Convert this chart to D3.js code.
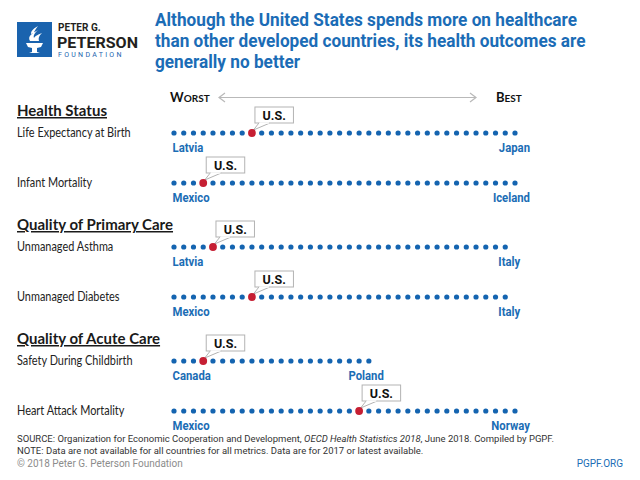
<!DOCTYPE html>
<html><head><meta charset="utf-8">
<script src="https://cdn.jsdelivr.net/npm/d3@7"></script>
<style>
html,body{margin:0;padding:0;background:#fff;}
svg{display:block;}
</style></head>
<body>
<script>
// ---- data ----
const titleLines = ["Although the United States spends more on healthcare",
  "than other developed countries, its health outcomes are",
  "generally no better"];
const sections = ["Health Status", "Quality of Primary Care", "Quality of Acute Care"];
const metrics = ["Life Expectancy at Birth", "Infant Mortality", "Unmanaged Asthma",
  "Unmanaged Diabetes", "Safety During Childbirth", "Heart Attack Mortality"];
const metricSection = [0, 0, 1, 1, 2, 2];
const countryCounts = [36, 36, 35, 35, 21, 36];
const usRank = [8, 3, 4, 8, 3, 19];           // 0 = worst
const worstCountry = ["Latvia", "Mexico", "Latvia", "Mexico", "Canada", "Mexico"];
const bestCountry = ["Japan", "Iceland", "Italy", "Italy", "Poland", "Norway"];
const usLabel = "U.S.";
const scaleEnds = ["Worst", "Best"];
const footnotes = ["SOURCE: Organization for Economic Cooperation and Development, ",
  "OECD Health Statistics 2018", ", June 2018. Compiled by PGPF.",
  "NOTE: Data are not available for all countries for all metrics. Data are for 2017 or latest available."];
const copyright = "© 2018 Peter G. Peterson Foundation";
const site = "PGPF.ORG";

// ---- styles ----
const BLUE = "#1464b0", RED = "#c61f33", TITLE = "#1b6cb6";
const W = 640, H = 480;

const svg = d3.select("body").append("svg").attr("width", W).attr("height", H);

// logo
const logo = svg.append("g");
logo.append("rect").attr("x", 17).attr("y", 22).attr("width", 35).attr("height", 35).attr("fill", "#1a63ae");
logo.append("path").attr("fill", "#fff")
  .attr("d", "M26,43 L43,43 L41,47 L37,48 L37,52 L40,53 L29,53 L32,52 L32,48 L28,47 Z");
logo.append("path").attr("fill", "#fff")
  .attr("d", "M30,41 C27,36 33,33 38,30 C35,33 33,35 34,38 C35,36 39,34 42,33 C39,36 38,38 39,41 Z");
logo.append("path").attr("fill", "#fff")
  .attr("d", "M31,34 C31,30 35,28 38,26 C36,29 34,31 34,33 Z");
logo.append("text").attr("x", 58).attr("y", 31).text("PETER G.")
  .attr("font-family", "Roboto").attr("font-weight", 700).attr("font-size", 10).attr("fill", "#231f20");
logo.append("text").attr("x", 57).attr("y", 47.5).text("PETERSON")
  .attr("font-family", "Roboto").attr("font-weight", 700).attr("font-size", 15).attr("fill", "#231f20")
  .attr("textLength", 81).attr("lengthAdjust", "spacingAndGlyphs");
logo.append("text").attr("x", 58).attr("y", 56.5).text("FOUNDATION")
  .attr("font-family", "Roboto").attr("font-weight", 400).attr("font-size", 7).attr("fill", "#1a63ae")
  .attr("letter-spacing", 2.3);

// title
svg.append("g").selectAll("text").data(titleLines).join("text")
  .attr("transform", (d, i) => `translate(155,${26 + i * 21}) scale(0.93,1)`)
  .attr("font-family", "Roboto").attr("font-weight", 700).attr("font-size", 18.5)
  .attr("fill", TITLE).text(d => d);

// scales
const x = d3.scaleLinear().domain([0, 35]).range([174, 515]);
const rowY = i => 133 + i * 50 + metricSection[i] * 14;
const sectionY = s => rowY(metricSection.indexOf(s)) - 17;

// worst / best arrow
const arrowY = 97.5;
const topG = svg.append("g");
function smallCaps(g, xx, word, anchor) {
  const t = g.append("text").attr("x", xx).attr("y", 102).attr("text-anchor", anchor)
    .attr("font-family", "Lato").attr("font-weight", 700).attr("fill", "#111");
  t.append("tspan").attr("font-size", 13).text(word[0].toUpperCase());
  t.append("tspan").attr("font-size", 10).text(word.slice(1).toUpperCase());
}
smallCaps(topG, 170, scaleEnds[0], "start");
smallCaps(topG, 496, scaleEnds[1], "start");
topG.append("line").attr("x1", 219).attr("x2", 476).attr("y1", arrowY).attr("y2", arrowY)
  .attr("stroke", "#b9b9b9").attr("stroke-width", 1.2);
topG.append("path").attr("d", `M225,${arrowY - 4.5} L219,${arrowY} L225,${arrowY + 4.5}`)
  .attr("fill", "none").attr("stroke", "#b9b9b9").attr("stroke-width", 1.2);
topG.append("path").attr("d", `M470,${arrowY - 4.5} L476,${arrowY} L470,${arrowY + 4.5}`)
  .attr("fill", "none").attr("stroke", "#b9b9b9").attr("stroke-width", 1.2);

// section headers
svg.append("g").selectAll("text").data(sections).join("text")
  .attr("x", 17).attr("y", (d, i) => sectionY(i))
  .attr("font-family", "Lato").attr("font-weight", 700).attr("font-size", 15)
  .attr("fill", "#1a1a1a").attr("text-decoration", "underline").text(d => d);

// rows
const rows = svg.append("g").selectAll("g").data(metrics).join("g");
rows.append("text").attr("transform", (d, i) => `translate(17,${rowY(i) + 3.8}) scale(0.84,1)`)
  .attr("font-family", "Lato").attr("font-size", 13).attr("fill", "#222").text(d => d);

rows.each(function (m, i) {
  const g = d3.select(this);
  const yy = rowY(i);
  const idx = d3.range(countryCounts[i]);
  g.selectAll("circle.dot").data(idx.filter(k => k !== usRank[i])).join("circle")
    .attr("class", "dot").attr("cx", k => x(k)).attr("cy", yy).attr("r", 2.6).attr("fill", BLUE);
  const lab = (xx, anchor, txt) => g.append("text")
    .attr("transform", `translate(${xx},${yy + 18.5}) scale(0.84,1)`)
    .attr("text-anchor", anchor).attr("font-family", "Roboto").attr("font-weight", 700)
    .attr("font-size", 13.5).attr("fill", "#1b6db5").text(txt);
  lab(x(0) - 1.5, "start", worstCountry[i]);
  lab(x(countryCounts[i] - 1) + 15, "end", bestCountry[i]);
  const ux = x(usRank[i]);
  const bx = ux + 3, bw = 38.5, bh = 16, by = yy - 10 - bh;
  const c = g.append("g");
  c.append("rect").attr("x", bx).attr("y", by).attr("width", bw).attr("height", bh)
    .attr("fill", "#fff").attr("stroke", "#b3b3b3").attr("stroke-width", 1);
  c.append("path").attr("d", `M${bx + 4},${by + bh} L${ux + 1.5},${yy - 3} L${bx + 15},${by + bh}`)
    .attr("fill", "#fff").attr("stroke", "#b3b3b3").attr("stroke-width", 1);
  c.append("line").attr("x1", bx + 4.6).attr("x2", bx + 14.4).attr("y1", by + bh).attr("y2", by + bh)
    .attr("stroke", "#fff").attr("stroke-width", 1.4);
  c.append("text").attr("x", bx + bw / 2).attr("y", by + bh - 3.5).attr("text-anchor", "middle")
    .attr("font-family", "Roboto").attr("font-weight", 700).attr("font-size", 12.5).attr("fill", "#111").text(usLabel);
  g.append("circle").attr("cx", ux).attr("cy", yy).attr("r", 3.9).attr("fill", RED);
});

// footer
const f = svg.append("g").attr("font-family", "Roboto").attr("font-size", 9.5).attr("fill", "#333");
const s1 = f.append("text").attr("x", 17).attr("y", 442);
s1.append("tspan").text(footnotes[0]);
s1.append("tspan").attr("font-style", "italic").text(footnotes[1]);
s1.append("tspan").text(footnotes[2]);
f.append("text").attr("x", 17).attr("y", 453.5).text(footnotes[3]);
f.append("text").attr("x", 17).attr("y", 467).attr("font-size", 10).attr("fill", "#8c8c8c").text(copyright);
f.append("text").attr("x", 623).attr("y", 467).attr("font-size", 10).attr("text-anchor", "end").attr("fill", "#1b6db5").text(site);
</script>
</body></html>
